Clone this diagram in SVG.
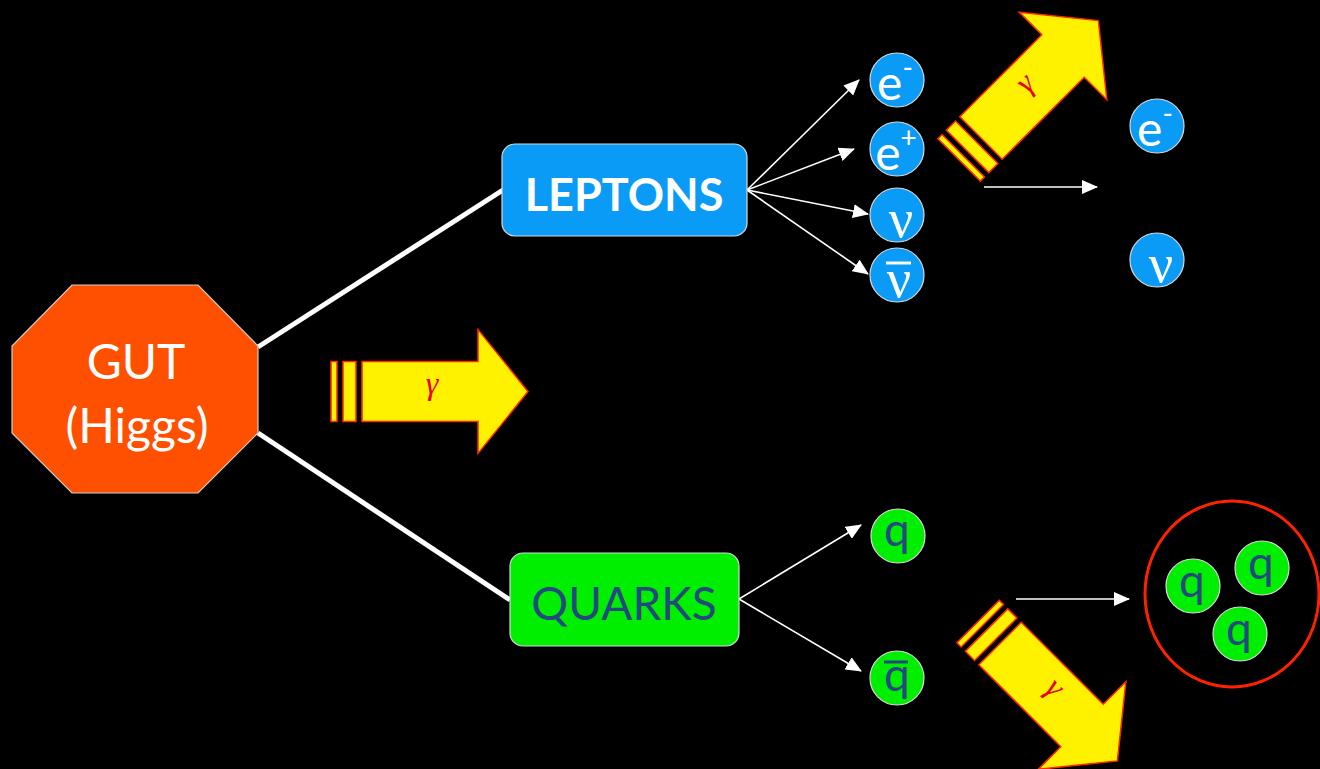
<svg xmlns="http://www.w3.org/2000/svg" width="1320" height="769" viewBox="0 0 1320 769">
<defs>
<style>
.lbl{font-family:Lato,"Liberation Sans",sans-serif;text-anchor:middle}
.wh{fill:#fff}
.bl{fill:#0A9BF7;stroke:#d8d8d8;stroke-width:1.2}
.gr{fill:#00EE00;stroke:#d8d8d8;stroke-width:1.2}
.gl{font-family:"Liberation Serif",serif;fill:#fff;text-anchor:middle;font-size:54px}
.qt{font-family:Lato,"Liberation Sans",sans-serif;fill:#24497E;text-anchor:middle;font-size:46px}
.ph{fill:#FFF200;stroke:#FF2A00;stroke-width:1.5}
.gam{font-family:"Liberation Serif",serif;font-style:italic;fill:#E8000B;font-size:32px;text-anchor:middle}
.thin{stroke:#fff;stroke-width:1.6;fill:none}
</style>
<marker id="ah2" viewBox="0 0 16 14" markerWidth="16" markerHeight="14" refX="15" refY="7" orient="auto" markerUnits="userSpaceOnUse">
<path d="M0,0 L16,7 L0,14 Z" fill="#fff"/>
</marker>
<g id="photon">
<rect class="ph" x="-31" y="-30" width="6" height="60"/>
<rect class="ph" x="-19" y="-30" width="13" height="60"/>
<polygon class="ph" points="0,-30 116,-30 116,-62 166,0 116,62 116,30 0,30"/>
<text class="gam" x="70" y="2">γ</text>
</g>
</defs>
<rect width="1320" height="769" fill="#000"/>

<g id="connectors">
<line x1="258" y1="347" x2="503" y2="190" stroke="#fff" stroke-width="5"/>
<line x1="258" y1="433" x2="510" y2="600" stroke="#fff" stroke-width="5"/>
<line class="thin" x1="747" y1="190" x2="859" y2="80" marker-end="url(#ah2)"/>
<line class="thin" x1="747" y1="190" x2="854" y2="149" marker-end="url(#ah2)"/>
<line class="thin" x1="747" y1="190" x2="868" y2="214" marker-end="url(#ah2)"/>
<line class="thin" x1="747" y1="190" x2="868" y2="274" marker-end="url(#ah2)"/>
<line class="thin" x1="739" y1="599" x2="861" y2="525" marker-end="url(#ah2)"/>
<line class="thin" x1="739" y1="599" x2="861" y2="671" marker-end="url(#ah2)"/>
<line class="thin" x1="984" y1="187" x2="1097" y2="187" marker-end="url(#ah2)"/>
<line class="thin" x1="1016" y1="599" x2="1129" y2="599" marker-end="url(#ah2)"/>
</g>

<g id="gut">
<polygon points="72,285 198,285 258,346 258,433 198,493 72,493 12,433 12,346" fill="#FF5000" stroke="#cfcfcf" stroke-width="1.2"/>
<text class="lbl wh" x="136" y="379" font-size="48">GUT</text>
<text class="lbl wh" x="137" y="443" font-size="48">(Higgs)</text>
</g>

<g id="leptons">
<rect x="502" y="144" width="245" height="92" rx="13" class="bl"/>
<text class="lbl wh" x="624" y="211" font-size="45" font-weight="bold">LEPTONS</text>
</g>

<g id="quarks">
<rect x="510" y="553" width="229" height="93" rx="13" class="gr"/>
<text class="qt" x="624" y="620" font-size="48">QUARKS</text>
</g>

<g id="photon-mid"><use href="#photon" transform="translate(362,391.5)"/></g>
<g id="photon-up"><use href="#photon" transform="translate(981,138) rotate(-45)"/></g>
<g id="photon-down"><use href="#photon" transform="translate(1000,643.5) rotate(45)"/></g>

<g id="e-minus">
<circle cx="897" cy="80" r="27" class="bl"/>
<text class="lbl wh" x="895" y="100" font-size="48">e<tspan font-size="28" dy="-22">-</tspan></text>
</g>
<g id="e-plus">
<circle cx="897" cy="149" r="27" class="bl"/>
<text class="lbl wh" x="896" y="170" font-size="48">e<tspan font-size="28" dy="-22">+</tspan></text>
</g>
<g id="nu">
<circle cx="897" cy="215" r="27" class="bl"/>
<text class="gl" x="901" y="237">ν</text>
</g>
<g id="nubar">
<circle cx="897" cy="275" r="27" class="bl"/>
<text class="gl" x="899" y="297">ν</text>
<line x1="886" y1="263" x2="911" y2="263" stroke="#fff" stroke-width="3"/>
</g>

<g id="e-minus-2">
<circle cx="1157" cy="126" r="27" class="bl"/>
<text class="lbl wh" x="1155" y="146" font-size="48">e<tspan font-size="28" dy="-22">-</tspan></text>
</g>
<g id="nu-2">
<circle cx="1157" cy="260" r="27" class="bl"/>
<text class="gl" x="1161" y="282">ν</text>
</g>

<g id="q">
<circle cx="898" cy="536" r="27" class="gr"/>
<text class="qt" x="897" y="546">q</text>
</g>
<g id="qbar">
<circle cx="897" cy="678" r="27" class="gr"/>
<text class="qt" x="897" y="691">q</text>
<line x1="884" y1="662" x2="908" y2="662" stroke="#24497E" stroke-width="3"/>
</g>

<g id="hadron">
<ellipse cx="1232" cy="594" rx="87" ry="93" fill="none" stroke="#FF2200" stroke-width="3"/>
<circle cx="1193" cy="586" r="27" class="gr"/>
<text class="qt" x="1192" y="597">q</text>
<circle cx="1262" cy="568" r="27" class="gr"/>
<text class="qt" x="1261" y="579">q</text>
<circle cx="1240" cy="634" r="27" class="gr"/>
<text class="qt" x="1239" y="645">q</text>
</g>
</svg>
